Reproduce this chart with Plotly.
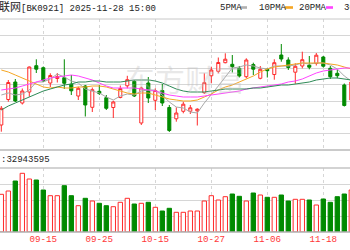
import plotly.graph_objects as go

# trading dates (visible window)
dates = ["09-05","09-08","09-09","09-10","09-11","09-12","09-15","09-16","09-17","09-18",
         "09-19","09-22","09-23","09-24","09-25","09-26","09-29","09-30","10-09","10-10",
         "10-13","10-14","10-15","10-16","10-17","10-20","10-21","10-22","10-23","10-24",
         "10-27","10-28","10-29","10-30","10-31","11-03","11-04","11-05","11-06","11-07",
         "11-10","11-11","11-12","11-13","11-14","11-17","11-18","11-19","11-20","11-21","11-24"]

open_ = [25,50.5,68,47,58,84.3,82.3,67,71.5,72.3,65.8,54,64,42.7,58.7,52.3,42.5,52.5,64.2,68.7,
         27,67,49.7,59.5,42.5,31.2,38.7,38.8,39.2,57.3,74.2,78.7,87.3,85.7,81.7,73.3,85.4,71.7,80.7,75.5,
         95,90,77.8,84,84.8,86.5,93,81.7,76.7,65,50]
close = [41.7,67.5,49,59,83,80.8,69,74.5,73.5,66.7,59.2,61.7,45,60.3,56.5,41.7,48,61.5,70.3,54,
         62,52,59.5,47,19.5,37,45.8,42.2,40.8,67.3,80,87.5,90.8,83.3,74,90,80.8,80.7,79.3,87.3,
         91,82.5,83.7,90.3,82.8,94.8,83.8,73.3,74.3,44.5,68]
high = [44,70,71,61.5,83.5,90.7,83.5,76.7,77,90.7,75,63.3,65,62.5,65,55,49.2,64.5,74.2,70,
        63.3,73,61.7,66,45,42.7,48.3,45,41.7,76.7,83.3,92.5,96.7,95,84,91.7,87.3,84,81.7,90.7,
        106,92.7,86.7,98.3,94,97,94,84,80.7,66.5,75]
low = [18.3,48.3,48,45.5,53.3,77,68,63,67.5,61,55,50,33.5,38,55,40,32,51.7,61.7,53,
       25,47,40,44,18,28.3,36.7,36,24.5,56,66.7,76.7,86.7,77.5,72.5,71.7,75,70.7,72.5,70.3,
       88.3,80,66.3,81.7,80.7,84.5,82.5,71,71.7,43.5,48]

ma5 = [55,57,55,56,60,68,68,71,76,73,69,67,61,59,57,53,50,54,56,55,
       59,60,60,55,48,43,42,38,37,47,55,64,73,82,83,85,84,82,81,84,
       84,84,85,87,86,87,87,85,81,74,69]
ma10 = [80,78,75,72,69,66,63,62,63,62,62,63,63,64,64,63,61,59,57,56,
        57,57,55,53,51,50,49,49,50,53,56,60,63,65,68,71,74,78,81,83,
        84,85,86,87,87,87,87,86,85,83,81]
ma20 = [60,61,62,64,66,68,70,72,73,74,75,74,72,70,67,64,62,62,62,62,
        61,60,59,57,55,54,53,53,53,54,55,56,57,58,59,61,62,63,64,65,
        66,68,69,71,74,77,79,80,81,82,82]
ma30 = [40,44,47,50,53,56,59,61,63,65,66,68,68,69,69,68,68,68,69,70,
        70,70,69,67,64,61,59,58,58,58,59,60,61,61,61,61,62,62,63,64,
        65,65,66,67,68,70,71,72,72,71,70]

volume_m = [37.7,41,51,58.7,53,52,42,36.3,36.3,46.3,36.3,26.3,33.7,31,28.7,26.3,25.3,29.7,33.7,28,
            28.7,29.7,24.7,21,23.7,19.7,19.7,21,21,31,36.3,32,35.3,38,35.7,31,39,37,34.7,34.7,
            37,31,32.7,32.7,32,27,33,29.7,35.3,38,42]

tick_dates = ["09-15","09-25","10-15","10-27","11-06","11-18"]

RED = "#ff2a2a"
GREEN = "#008a00"

fig = go.Figure()
# MA lines
for vals, col in [(ma5, "#a8a8a8"), (ma10, "#f5a623"), (ma20, "#ff44ff"), (ma30, "#2e8b57")]:
    fig.add_trace(go.Scatter(x=dates, y=vals, mode="lines", line=dict(color=col, width=1),
                             xaxis="x", yaxis="y", hoverinfo="skip", showlegend=False))

fig.add_trace(go.Candlestick(x=dates, open=open_, high=high, low=low, close=close,
                             increasing=dict(line=dict(color=RED, width=1), fillcolor="white"),
                             decreasing=dict(line=dict(color=GREEN, width=1), fillcolor=GREEN),
                             xaxis="x", yaxis="y", showlegend=False))

vol_fill = ["white" if c >= o else GREEN for o, c in zip(open_, close)]
vol_line = [RED if c >= o else GREEN for o, c in zip(open_, close)]
fig.add_trace(go.Bar(x=dates, y=volume_m, marker=dict(color=vol_fill, line=dict(color=vol_line, width=1)),
                     width=0.62, xaxis="x2", yaxis="y2", showlegend=False))

xr = [-0.186, -0.186 + 50]
grid = "#d6d6d6"
fig.update_layout(
    width=350, height=250, margin=dict(l=0, r=0, t=0, b=0),
    paper_bgcolor="white", plot_bgcolor="white", boxgap=0.38, bargap=0.38,
    xaxis=dict(domain=[0, 1], anchor="y", type="category", range=xr, tickvals=tick_dates,
               showticklabels=False, showgrid=True, gridcolor=grid, griddash="3px,3px",
               rangeslider=dict(visible=False), showline=False, zeroline=False, ticks=""),
    yaxis=dict(domain=[0.4, 0.924], range=[0, 131], tick0=0, dtick=16.3, showticklabels=False,
               showgrid=True, gridcolor=grid, zeroline=False),
    xaxis2=dict(domain=[0, 1], anchor="y2", type="category", range=xr, tickvals=tick_dates,
                showticklabels=True, showgrid=True, gridcolor=grid, griddash="3px,3px",
                tickfont=dict(family="Liberation Mono", size=9.2, color="#ff3838"), ticks="",
                zeroline=False, showline=False),
    yaxis2=dict(domain=[0.072, 0.328], range=[0, 64], tick0=0, dtick=16, showticklabels=False,
                showgrid=True, gridcolor=grid, zeroline=False),
    font=dict(family="Liberation Mono, Noto Sans CJK SC"),
)

def py(p):
    return 1 - p / 250.0

shapes = []
for ypx, col, w in [(19, "#c8c8c8", 1), (150, "#b8b8b8", 1.5), (168, "#c4c4c4", 1.5), (232, "#b0b0b0", 1.5)]:
    shapes.append(dict(type="line", xref="paper", yref="paper", x0=0, x1=1, y0=py(ypx), y1=py(ypx),
                       line=dict(color=col, width=w)))
# legend swatches
for x0, x1, col in [(240, 247, "#b0b0b0"), (285, 293, "#f5a623"), (326, 333, "#ff44ff")]:
    shapes.append(dict(type="rect", xref="paper", yref="paper", x0=x0/350, x1=x1/350,
                       y0=py(8.8), y1=py(6.2), line=dict(width=0), fillcolor=col))
fig.update_layout(shapes=shapes)

ann = []
ann.append(dict(text="<span style='font-size:11px'>联网</span>[BK0921] 2025-11-28 15:00",
                xref="paper", yref="paper", x=-3.5/350, y=py(7.5),
                xanchor="left", yanchor="middle", showarrow=False,
                font=dict(family="Liberation Mono, Noto Sans CJK SC", size=9, color="#222")))
for xpx, t in [(218, "5PMA"), (257, "10PMA"), (297, "20PMA"), (342, "30PMA")]:
    ann.append(dict(text=t, xref="paper", yref="paper", x=xpx/350, y=py(7.5), xanchor="left",
                    yanchor="middle", showarrow=False,
                    font=dict(family="Liberation Mono", size=9, color="#222")))
ann.append(dict(text=":32943595", xref="paper", yref="paper", x=-1/350, y=py(160), xanchor="left",
                yanchor="middle", showarrow=False, font=dict(family="Liberation Mono", size=9, color="#222")))
ann.append(dict(text="东方财富", xref="paper", yref="paper", x=185/350, y=py(78), xanchor="center",
                yanchor="middle", showarrow=False,
                font=dict(family="Noto Sans CJK SC", size=30, color="rgba(190,190,190,0.35)")))
fig.update_layout(annotations=ann)

fig.write_html("out.html")
